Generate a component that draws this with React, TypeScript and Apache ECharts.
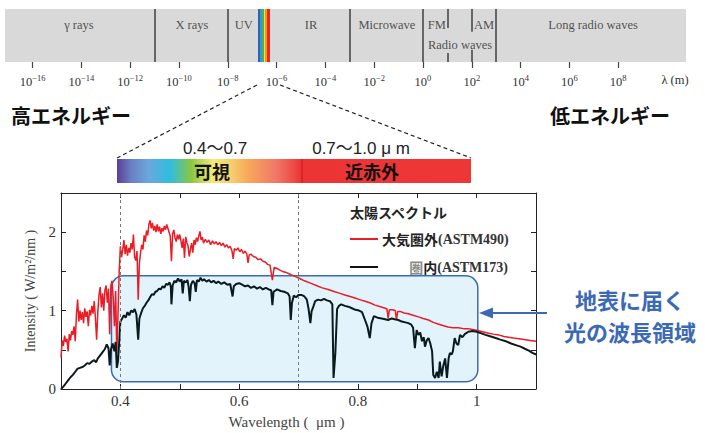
import React, { useEffect, useRef } from "react";
import * as echarts from "echarts";

// ---- main chart data (wavelength in µm, intensity in W/m2/nm) ----
const redWl = [
  0.300, 0.302, 0.304, 0.306, 0.308, 0.310, 0.312, 0.314, 0.316, 0.318, 0.320, 0.322, 0.324, 0.326, 0.328, 0.330,
  0.332, 0.334, 0.336, 0.338, 0.340, 0.342, 0.344, 0.346, 0.348, 0.350, 0.352, 0.354, 0.356, 0.358, 0.360, 0.362,
  0.364, 0.366, 0.368, 0.370, 0.372, 0.374, 0.376, 0.378, 0.380, 0.382, 0.384, 0.386, 0.388, 0.390, 0.392, 0.394,
  0.396, 0.398, 0.400, 0.402, 0.404, 0.406, 0.408, 0.410, 0.412, 0.414, 0.416, 0.418, 0.420, 0.422, 0.424, 0.426,
  0.428, 0.430, 0.432, 0.434, 0.436, 0.438, 0.440, 0.442, 0.444, 0.446, 0.448, 0.450, 0.452, 0.454, 0.456, 0.458,
  0.460, 0.462, 0.464, 0.466, 0.468, 0.470, 0.472, 0.474, 0.476, 0.478, 0.480, 0.482, 0.484, 0.486, 0.488, 0.490,
  0.492, 0.494, 0.496, 0.498, 0.500, 0.502, 0.504, 0.506, 0.508, 0.510, 0.512, 0.514, 0.516, 0.518, 0.520, 0.522,
  0.524, 0.526, 0.528, 0.530, 0.532, 0.534, 0.536, 0.538, 0.540, 0.543, 0.546, 0.549, 0.552, 0.555, 0.558, 0.561,
  0.564, 0.567, 0.570, 0.573, 0.576, 0.579, 0.582, 0.585, 0.588, 0.590, 0.592, 0.595, 0.598, 0.601, 0.604, 0.607,
  0.610, 0.613, 0.615, 0.617, 0.620, 0.624, 0.628, 0.632, 0.636, 0.640, 0.644, 0.648, 0.652, 0.656, 0.659, 0.663,
  0.668, 0.673, 0.678, 0.684, 0.690, 0.696, 0.702, 0.710, 0.720, 0.730, 0.740, 0.750, 0.761, 0.770, 0.778, 0.787,
  0.795, 0.803, 0.812, 0.820, 0.829, 0.838, 0.846, 0.849, 0.851, 0.853, 0.858, 0.863, 0.865, 0.867, 0.871, 0.878,
  0.885, 0.893, 0.902, 0.910, 0.919, 0.927, 0.935, 0.943, 0.952, 0.960, 0.969, 0.978, 0.986, 0.993, 1.000, 1.010,
  1.020, 1.028, 1.037, 1.046, 1.054, 1.062, 1.071, 1.080, 1.090, 1.100,
];
const redVal = [
  0.40, 0.62, 0.55, 0.68, 0.60, 0.64, 0.48, 0.70, 0.62, 0.74, 0.69, 0.80, 0.61, 0.95, 1.14, 0.86,
  1.00, 0.88, 0.98, 0.84, 1.03, 0.92, 0.99, 0.80, 1.01, 0.94, 1.06, 0.96, 1.12, 0.90, 0.63, 0.98,
  1.20, 1.30, 1.04, 1.22, 1.00, 1.26, 1.32, 1.10, 1.28, 0.70, 1.32, 1.38, 1.15, 0.80, 1.25, 0.46,
  0.95, 1.50, 1.82, 1.68, 1.78, 1.90, 1.72, 1.84, 1.70, 1.80, 1.74, 1.86, 1.78, 1.97, 1.68, 1.64,
  1.76, 1.14, 1.60, 1.74, 1.84, 1.78, 1.96, 1.88, 2.02, 1.96, 2.10, 2.15, 2.05, 2.12, 2.02, 2.08,
  2.00, 2.10, 2.01, 2.07, 1.98, 2.05, 2.01, 2.08, 2.03, 2.10, 2.05, 2.00, 1.95, 1.63, 1.98, 2.03,
  1.93, 1.88, 1.97, 1.91, 1.97, 1.89, 1.80, 1.92, 1.67, 1.94, 1.87, 1.82, 1.69, 1.78, 1.86, 1.74,
  1.90, 1.84, 1.93, 1.88, 1.95, 2.01, 1.90, 1.94, 1.86, 1.91, 1.87, 1.90, 1.84, 1.89, 1.85, 1.88,
  1.84, 1.87, 1.83, 1.86, 1.81, 1.84, 1.80, 1.82, 1.76, 1.66, 1.79, 1.77, 1.80, 1.75, 1.78, 1.73,
  1.76, 1.72, 1.61, 1.71, 1.72, 1.69, 1.68, 1.65, 1.66, 1.63, 1.62, 1.59, 1.58, 1.39, 1.55, 1.54,
  1.52, 1.50, 1.49, 1.47, 1.45, 1.43, 1.41, 1.38, 1.35, 1.32, 1.29, 1.27, 1.24, 1.22, 1.20, 1.18,
  1.16, 1.14, 1.12, 1.10, 1.07, 1.05, 1.03, 1.02, 0.90, 1.01, 1.01, 1.00, 0.88, 0.99, 0.99, 0.97,
  0.96, 0.94, 0.92, 0.90, 0.88, 0.85, 0.83, 0.81, 0.79, 0.78, 0.78, 0.77, 0.77, 0.76, 0.75, 0.73,
  0.71, 0.70, 0.69, 0.67, 0.66, 0.65, 0.64, 0.63, 0.62, 0.61,
];

const blackWl = [
  0.300, 0.304, 0.308, 0.312, 0.316, 0.320, 0.324, 0.328, 0.332, 0.336, 0.340, 0.344, 0.348, 0.352, 0.356, 0.359,
  0.362, 0.366, 0.370, 0.374, 0.377, 0.380, 0.382, 0.384, 0.387, 0.390, 0.392, 0.394, 0.396, 0.398, 0.400, 0.403,
  0.406, 0.409, 0.412, 0.415, 0.418, 0.421, 0.424, 0.427, 0.430, 0.432, 0.435, 0.438, 0.441, 0.444, 0.447, 0.450,
  0.453, 0.456, 0.459, 0.462, 0.465, 0.468, 0.471, 0.474, 0.477, 0.480, 0.483, 0.485, 0.486, 0.488, 0.491, 0.494,
  0.497, 0.500, 0.503, 0.505, 0.507, 0.510, 0.513, 0.515, 0.517, 0.519, 0.522, 0.525, 0.527, 0.529, 0.532, 0.535,
  0.538, 0.541, 0.545, 0.549, 0.553, 0.557, 0.561, 0.565, 0.570, 0.575, 0.580, 0.585, 0.589, 0.591, 0.595, 0.600,
  0.605, 0.610, 0.615, 0.620, 0.625, 0.630, 0.635, 0.640, 0.645, 0.650, 0.654, 0.656, 0.658, 0.664, 0.670, 0.676,
  0.682, 0.685, 0.687, 0.689, 0.692, 0.696, 0.700, 0.705, 0.710, 0.714, 0.717, 0.720, 0.722, 0.725, 0.728, 0.733,
  0.738, 0.743, 0.748, 0.753, 0.757, 0.759, 0.762, 0.765, 0.768, 0.772, 0.778, 0.784, 0.790, 0.796, 0.802, 0.807,
  0.812, 0.816, 0.820, 0.823, 0.827, 0.833, 0.840, 0.846, 0.851, 0.857, 0.862, 0.868, 0.874, 0.880, 0.885, 0.890,
  0.893, 0.896, 0.899, 0.902, 0.905, 0.908, 0.911, 0.913, 0.916, 0.919, 0.922, 0.925, 0.927, 0.930, 0.933, 0.936,
  0.938, 0.941, 0.944, 0.947, 0.950, 0.953, 0.955, 0.958, 0.960, 0.963, 0.966, 0.969, 0.972, 0.976, 0.980, 0.986,
  0.993, 1.000, 1.008, 1.015, 1.024, 1.032, 1.040, 1.049, 1.058, 1.066, 1.074, 1.082, 1.088, 1.094, 1.100,
];
const blackVal = [
  0.00, 0.03, 0.07, 0.11, 0.15, 0.18, 0.22, 0.26, 0.27, 0.28, 0.30, 0.33, 0.32, 0.35, 0.37, 0.34,
  0.39, 0.43, 0.47, 0.51, 0.57, 0.52, 0.30, 0.50, 0.58, 0.48, 0.60, 0.27, 0.35, 0.60, 0.86, 0.90,
  0.94, 0.91, 0.98, 0.94, 1.00, 0.98, 1.02, 0.95, 0.63, 0.90, 0.97, 1.03, 1.06, 1.10, 1.13, 1.17,
  1.21, 1.20, 1.24, 1.25, 1.28, 1.27, 1.31, 1.29, 1.34, 1.33, 1.36, 1.30, 1.08, 1.32, 1.38, 1.36,
  1.41, 1.37, 1.40, 1.22, 1.38, 1.36, 1.39, 1.30, 1.12, 1.33, 1.38, 1.35, 1.24, 1.39, 1.37, 1.42,
  1.38, 1.40, 1.37, 1.39, 1.36, 1.38, 1.35, 1.37, 1.34, 1.36, 1.33, 1.34, 1.18, 1.31, 1.34, 1.35,
  1.33, 1.31, 1.32, 1.29, 1.31, 1.28, 1.30, 1.27, 1.29, 1.27, 1.26, 1.07, 1.24, 1.27, 1.25, 1.24,
  1.22, 1.18, 0.88, 1.10, 1.19, 1.17, 1.20, 1.20, 1.18, 1.14, 1.02, 0.84, 0.99, 1.05, 1.12, 1.14,
  1.13, 1.15, 1.13, 1.12, 1.08, 0.14, 0.45, 1.02, 1.06, 1.08, 1.06, 1.05, 1.03, 1.01, 1.00, 0.98,
  0.88, 0.80, 0.65, 0.84, 0.93, 0.91, 0.90, 0.89, 0.88, 0.90, 0.89, 0.88, 0.86, 0.85, 0.84, 0.82,
  0.78, 0.52, 0.75, 0.69, 0.72, 0.61, 0.66, 0.54, 0.62, 0.65, 0.58, 0.48, 0.18, 0.14, 0.22, 0.14,
  0.35, 0.16, 0.30, 0.39, 0.14, 0.40, 0.46, 0.44, 0.48, 0.65, 0.58, 0.56, 0.69, 0.66, 0.70, 0.73,
  0.74, 0.73, 0.71, 0.69, 0.67, 0.65, 0.63, 0.61, 0.58, 0.56, 0.54, 0.51, 0.49, 0.46, 0.44,
];

const legendJp = ["大気圏外", "圏内"];
const legendCode = ["(ASTM490)", "(ASTM173)"];
const seriesNames = [legendJp[0] + legendCode[0], legendJp[1] + legendCode[1]];

const guideWl = [0.4, 0.7];
const xLabelVals = [0.4, 0.6, 0.8, 1.0];
const yLabelVals = [0, 1, 2];
// region reaching the ground: [x0, yTop, x1, yBottom] in data units
const regionBox = [0.385, 1.443, 1.002, 0.093];

// ---- electromagnetic spectrum band (log10 of wavelength in m) ----
const bandTicks = [-16, -14, -12, -10, -8, -6, -4, -2, 0, 2, 4, 6, 8];
const bandDividers = [-11, -8, -3, 0, 3];
const bandPartialX = [1, 1, 2, 2];
const bandPartialFrom = [1, 0.17, 1, 0.23];
const bandPartialTo = [0.64, 0, 0.57, 0];
const bandLabels = ["γ rays", "X rays", "UV", "IR", "Microwave", "FM", "AM", "Radio waves", "Long radio waves"];
const bandLabelPos = [-14.1, -9.47, -7.34, -4.59, -1.48, 0.57, 2.5, 1.52, 6.97];
const bandLabelRow = [0.7, 0.7, 0.7, 0.7, 0.7, 0.7, 0.7, 0.32, 0.7];
const visibleBand = [-6.76, -6.27];

const SERIF = "'Liberation Serif', 'Times New Roman', serif";
const JP = "'Noto Sans CJK JP', sans-serif";
const SANS = "'Liberation Sans', 'Noto Sans CJK JP', sans-serif";

const near = (v: number, arr: number[]) => arr.some((a) => Math.abs(a - v) < 1e-6);

export default function App() {
  const ref = useRef<HTMLDivElement>(null);
  useEffect(() => {
    const el = ref.current!;
    const chart = echarts.init(el, null, { renderer: "svg" });
    const redData = redWl.map((w, i) => [w, redVal[i]]);
    const blackData = blackWl.map((w, i) => [w, blackVal[i]]);

    const frameLine = { show: true, onZero: false, lineStyle: { color: "#222", width: 1 } };
    const inTick = { show: true, inside: true, length: 5, lineStyle: { color: "#222", width: 1 } };

    const option: any = {
      animation: false,
      backgroundColor: "#ffffff",
      grid: [
        { left: 61, right: 169, top: 193, bottom: 44, containLabel: false, outerBoundsMode: "none" },
        { left: 5, right: 19, top: 9, height: 53, show: true, backgroundColor: "#d9d9d9", borderWidth: 0, containLabel: false, outerBoundsMode: "none" },
      ],
      xAxis: [
        {
          type: "value", gridIndex: 0, min: 0.3, max: 1.1, interval: 0.1, position: "bottom",
          axisLine: frameLine, axisTick: inTick, splitLine: { show: false },
          axisLabel: {
            color: "#333", fontFamily: SERIF, fontSize: 15, margin: 4,
            formatter: (v: number) => (near(v, xLabelVals) ? (Math.abs(v - 1) < 1e-6 ? "1" : v.toFixed(1)) : ""),
          },
          name: "Wavelength (  μm )", nameLocation: "middle", nameGap: 25,
          nameTextStyle: { color: "#444", fontFamily: SERIF, fontSize: 15, padding: [0, 24, 0, 0] },
        },
        {
          type: "value", gridIndex: 0, min: 0.3, max: 1.1, interval: 0.1, position: "top",
          axisLine: frameLine, axisTick: inTick, axisLabel: { show: false }, splitLine: { show: false },
        },
        {
          type: "value", gridIndex: 1, min: -17.13, max: 10.78, position: "bottom",
          axisLine: { show: false },
          axisTick: { show: true, customValues: bandTicks, length: 6, lineStyle: { color: "#444", width: 1.2 } },
          axisLabel: {
            customValues: bandTicks, margin: 11,
            formatter: (v: number) => `{b|10}{s|${v < 0 ? "−" + Math.abs(v) : String(v)}}`,
            rich: {
              b: { fontFamily: SERIF, fontSize: 12.5, color: "#333", lineHeight: 18 },
              s: { fontFamily: SERIF, fontSize: 8.5, color: "#333", lineHeight: 8, verticalAlign: "top" },
            },
          },
          splitLine: { show: false },
        },
      ],
      yAxis: [
        {
          type: "value", gridIndex: 0, min: 0, max: 2.5, interval: 0.5, position: "left",
          axisLine: frameLine, axisTick: inTick, splitLine: { show: false },
          axisLabel: {
            color: "#333", fontFamily: SERIF, fontSize: 15, margin: 5,
            formatter: (v: number) => (near(v, yLabelVals) ? String(Math.round(v)) : ""),
          },
          name: "Intensity ( W/m²/nm )", nameLocation: "middle", nameRotate: 90, nameGap: 24,
          nameTextStyle: { color: "#444", fontFamily: SERIF, fontSize: 14 },
        },
        {
          type: "value", gridIndex: 0, min: 0, max: 2.5, interval: 0.5, position: "right",
          axisLine: frameLine, axisTick: inTick, axisLabel: { show: false }, splitLine: { show: false },
        },
        { type: "value", gridIndex: 1, min: 0, max: 1, show: false },
      ],
      series: [
        {
          type: "line", name: seriesNames[0], xAxisIndex: 0, yAxisIndex: 0, data: redData,
          symbol: "none", showSymbol: false, z: 3,
          lineStyle: { color: "#ec1c24", width: 1.5 },
          markLine: {
            symbol: ["none", "none"], silent: true, label: { show: false },
            lineStyle: { color: "#777", type: [3, 3], width: 1 },
            data: guideWl.map((w) => ({ xAxis: w })),
          },
        },
        {
          type: "line", name: seriesNames[1], xAxisIndex: 0, yAxisIndex: 0, data: blackData,
          symbol: "none", showSymbol: false, z: 4,
          lineStyle: { color: "#0b1a1d", width: 2 },
        },
        {
          type: "scatter", xAxisIndex: 2, yAxisIndex: 2, silent: true, symbolSize: 1,
          itemStyle: { color: "rgba(0,0,0,0)" },
          data: bandLabels.map((n, i) => ({ name: n, value: [bandLabelPos[i], bandLabelRow[i]] })),
          label: { show: true, position: "inside", formatter: "{b}", color: "#2a2a2a", fontFamily: SERIF, fontSize: 12.5 },
          markArea: {
            silent: true,
            itemStyle: {
              color: {
                type: "linear", x: 0, y: 0, x2: 1, y2: 0,
                colorStops: [
                  { offset: 0, color: "#3a5fb0" }, { offset: 0.16, color: "#3a5fb0" },
                  { offset: 0.16, color: "#2a9fd4" }, { offset: 0.33, color: "#2a9fd4" },
                  { offset: 0.33, color: "#4cb050" }, { offset: 0.47, color: "#4cb050" },
                  { offset: 0.47, color: "#f2e43a" }, { offset: 0.6, color: "#f2e43a" },
                  { offset: 0.6, color: "#f7941d" }, { offset: 0.75, color: "#f7941d" },
                  { offset: 0.75, color: "#e8262a" }, { offset: 1, color: "#e8262a" },
                ],
              },
            },
            data: [[{ xAxis: visibleBand[0], yAxis: 0 }, { xAxis: visibleBand[1], yAxis: 1 }]],
          },
          markLine: {
            symbol: ["none", "none"], silent: true, label: { show: false },
            lineStyle: { color: "#4a4a4a", width: 1.6, type: "solid" },
            data: [
              ...bandDividers.map((d) => [{ coord: [d, 0] }, { coord: [d, 1] }]),
              ...bandPartialX.map((d, i) => [{ coord: [d, bandPartialFrom[i]] }, { coord: [d, bandPartialTo[i]] }]),
            ],
          },
        },
      ],
    };
    chart.setOption(option);

    const p0 = chart.convertToPixel({ gridIndex: 0 }, [regionBox[0], regionBox[1]]) as number[];
    const p1 = chart.convertToPixel({ gridIndex: 0 }, [regionBox[2], regionBox[3]]) as number[];

    const txt = (id: string, x: number, y: number, text: string, size: number, fill: string, family: string, weight = "normal", align = "center") => ({
      type: "text", id, x, y, z: 20,
      style: {
        text, fill, fontSize: size, fontFamily: family, fontWeight: weight,
        align, textAlign: align, verticalAlign: "middle", textVerticalAlign: "middle",
      },
    });

    const blue = "#3b69b3";
    chart.setOption({
      graphic: [
        {
          type: "rect", id: "region", z: 1,
          shape: { x: p0[0], y: p0[1], width: p1[0] - p0[0], height: p1[1] - p0[1], r: 12 },
          style: { fill: "#e2f3fb", stroke: "#3d6ab4", lineWidth: 1.5 },
        },
        // legend
        txt("lgTitle", 350, 212, "太陽スペクトル", 14, "#222", JP, "bold", "left"),
        { type: "line", id: "lgL1", z: 20, shape: { x1: 350, y1: 239, x2: 378, y2: 239 }, style: { stroke: "#ec1c24", lineWidth: 2 } },
        {
          type: "text", id: "lgT1", z: 20, x: 382, y: 239,
          style: {
            text: `{k|${legendJp[0]}}{s|${legendCode[0]}}`, align: "left", verticalAlign: "middle",
            rich: {
              k: { fontFamily: JP, fontSize: 14, fontWeight: "bold", fill: "#222", color: "#222" },
              s: { fontFamily: SERIF, fontSize: 14, fontWeight: "bold", fill: "#333", color: "#333" },
            },
          },
        },
        { type: "line", id: "lgL2", z: 20, shape: { x1: 350, y1: 267, x2: 378, y2: 267 }, style: { stroke: "#111", lineWidth: 2 } },
        {
          type: "text", id: "lgT2", z: 20, x: 508, y: 267,
          style: {
            text: `{g|${legendJp[1][0]}}{k|${legendJp[1].slice(1)}}{s|${legendCode[1]}}`, align: "right", verticalAlign: "middle",
            rich: {
              g: { fontFamily: JP, fontSize: 14, fontWeight: "bold", fill: "#8a8a8a", color: "#8a8a8a" },
              k: { fontFamily: JP, fontSize: 14, fontWeight: "bold", fill: "#222", color: "#222" },
              s: { fontFamily: SERIF, fontSize: 14, fontWeight: "bold", fill: "#333", color: "#333" },
            },
          },
        },
        // arrow and annotation
        { type: "line", id: "arrL", z: 20, shape: { x1: 547, y1: 313, x2: 490, y2: 313 }, style: { stroke: blue, lineWidth: 2 } },
        { type: "polygon", id: "arrH", z: 20, shape: { points: [[479, 313], [493, 307.5], [493, 318.5]] }, style: { fill: blue } },
        txt("ann1", 630, 299, "地表に届く", 22, blue, JP, "bold"),
        txt("ann2", 630, 331, "光の波長領域", 22, blue, JP, "bold"),
        // top area
        txt("lam", 675, 80, "λ (m)", 12.5, "#333", SERIF),
        txt("hiE", 71, 115, "高エネルギー", 20, "#111", JP, "bold"),
        txt("loE", 610, 115, "低エネルギー", 20, "#111", JP, "bold"),
        { type: "line", id: "dl1", z: 20, shape: { x1: 257, y1: 85, x2: 117, y2: 158 }, style: { stroke: "#222", lineWidth: 1.2, lineDash: [4, 3] } },
        { type: "line", id: "dl2", z: 20, shape: { x1: 280, y1: 85, x2: 471, y2: 158 }, style: { stroke: "#222", lineWidth: 1.2, lineDash: [4, 3] } },
        {
          type: "rect", id: "cbar", z: 15,
          shape: { x: 117, y: 159, width: 354, height: 24 },
          style: {
            fill: {
              type: "linear", x: 0, y: 0, x2: 1, y2: 0,
              colorStops: [
                { offset: 0, color: "#5b3f9a" }, { offset: 0.04, color: "#6b7fc4" },
                { offset: 0.09, color: "#6aa8dc" }, { offset: 0.15, color: "#2fbde0" },
                { offset: 0.21, color: "#8dc63f" }, { offset: 0.27, color: "#f2ea78" },
                { offset: 0.32, color: "#f6d070" }, { offset: 0.37, color: "#f8a85a" },
                { offset: 0.45, color: "#f07868" }, { offset: 0.5, color: "#ee4a45" },
                { offset: 0.52, color: "#ec3434" }, { offset: 1, color: "#ee3636" },
              ],
            },
          },
        },
        { type: "line", id: "cbSep", z: 16, shape: { x1: 302, y1: 159, x2: 302, y2: 183 }, style: { stroke: "#d81f24", lineWidth: 1.5 } },
        txt("vis", 212, 171, "可視", 18, "#111", JP, "bold"),
        txt("nir", 372, 171, "近赤外", 18, "#111", JP, "bold"),
        txt("r1", 215, 148, "0.4〜0.7", 17, "#222", SANS),
        txt("r2", 361, 148, "0.7〜1.0 μ m", 17, "#222", SANS),
      ],
    });

    return () => chart.dispose();
  }, []);
  return (
    <div
      ref={ref}
      style={{ position: "fixed", left: 0, top: 0, width: 705, height: 433, background: "#fff" }}
    />
  );
}
